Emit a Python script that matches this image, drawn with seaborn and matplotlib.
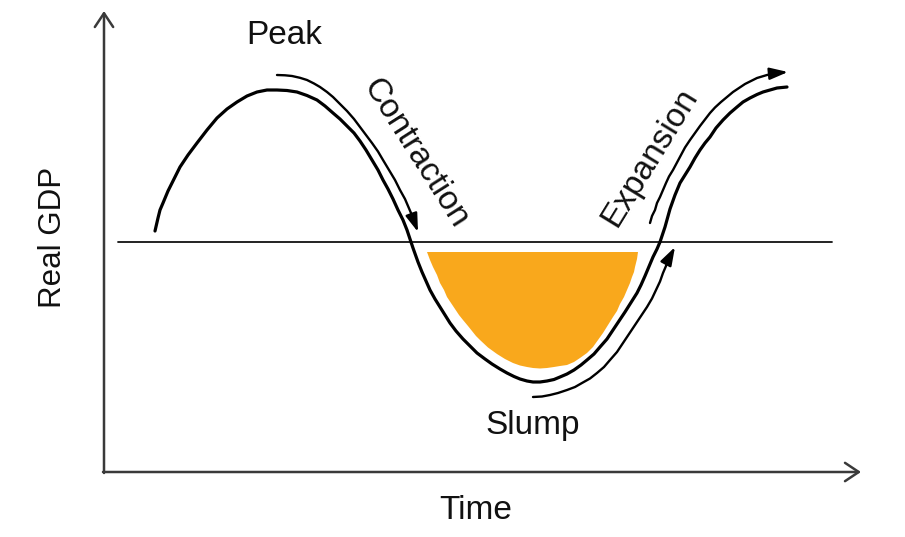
import matplotlib
matplotlib.use("Agg")
import matplotlib.pyplot as plt
import seaborn as sns
import pandas as pd

# ---- data (pixel-like coordinates, y grows downward) ----
curve_x = [155, 158, 160, 163, 168, 174, 180, 188, 197, 207, 217, 227, 237, 247, 257,
           267, 277, 287, 297, 307, 317, 325, 333, 340, 347, 354, 360, 366, 372, 378,
           383, 388, 393, 398, 403, 407, 413, 418, 422, 426, 430, 435, 440, 445, 450,
           456, 463, 470, 477, 485, 492, 500, 507, 514, 520, 527, 533, 540, 547, 554,
           560, 567, 574, 581, 587, 594, 600, 607, 613, 619, 625, 631, 637, 641, 645,
           649, 653, 657, 660, 665, 670, 675, 680, 685, 690, 695, 700, 705, 710, 716,
           723, 730, 737, 743, 750, 757, 763, 770, 777, 787]
curve_y = [231, 218, 210, 203, 191, 179, 167, 155, 143, 130, 118, 109, 102, 96, 92,
           90, 90, 90.5, 92, 95.5, 100, 106, 113, 119, 126, 133, 141, 150, 160, 170,
           180, 189, 199, 210, 220, 230, 248, 262, 272, 281, 290, 299, 307, 315, 323,
           331, 339, 346, 353, 359, 364, 369, 373, 376.5, 379, 381, 382, 382, 381, 379.5,
           377, 374, 370, 365, 360, 354, 347, 339, 330, 321, 312, 302.5, 293, 285, 276,
           266.5, 257, 249, 242, 227, 209, 195, 183, 175, 167, 158, 150, 143, 137, 128,
           120, 113, 107, 102, 98, 94.5, 92, 90, 88, 87]

contraction_x = [277, 285, 292, 300, 307, 314, 320, 327, 333, 340, 347, 354, 360,
                 366, 372, 378, 383, 389, 395, 400, 405, 408, 411, 418]
contraction_y = [75, 75.3, 76, 77.8, 80, 83.5, 87, 92, 97, 104, 111, 119, 127,
                 135, 143, 151.5, 160, 170, 180, 190, 199, 206, 213, 232]

expansion_x = [650, 652, 655, 657, 660, 663, 666, 669, 673, 677, 681, 685, 690, 695,
               700, 705, 710, 715, 721, 727, 733, 739, 745, 751, 757, 762, 767, 772,
               777, 788]
expansion_y = [223, 216, 210, 203, 197, 190, 183, 176.5, 170, 162.5, 155, 147.5, 140,
               133, 126, 119.5, 113, 107.5, 102, 97, 92, 88, 84, 81, 78, 76.5, 75, 74,
               73, 72]

slump_x = [533, 542, 550, 558, 567, 575, 582, 590, 597, 604, 610, 617, 623, 629, 635,
           641, 647, 652, 656, 660, 663, 666, 668, 675]
slump_y = [397, 396.5, 395, 393, 390, 387, 383, 378.5, 373, 367, 360, 352, 343, 334,
           325, 316, 307, 298.5, 290, 281.5, 273, 266, 260, 247]

area_x = [427, 430, 433, 437, 440, 444, 447, 451, 455, 459, 463, 468, 472, 476, 480,
          488, 497, 505, 513, 520, 527, 533, 540, 547, 554, 560, 567, 574, 580, 587,
          593, 598, 603, 608, 613, 617, 620, 624, 627, 630, 632, 634, 635, 637, 638]
area_y = [252, 260, 267, 275, 283, 290, 297, 303, 309, 315, 320, 326, 331, 336, 340,
          347.5, 354, 359, 363, 365.5, 367, 368, 368.5, 368, 367, 366, 365, 362, 358,
          353, 347, 340, 333, 325, 317, 311, 304, 297, 290, 283, 277, 272, 267, 259, 252]

trend_y = 242
trend_x = [118, 832]

labels = {
    "Peak": (284, 44),
    "Slump": (533, 434),
    "Time": (476, 519),
}
contraction_label = ("Contraction", 415, 153, -57.5)
expansion_label = ("Expansion", 650, 157, 58.5)
ylabel = ("Real GDP", 61, 237)

# ---- drawing ----
sns.set_theme(style="white")
plt.rcParams["font.family"] = ["Liberation Sans", "DejaVu Sans"]

fig = plt.figure(figsize=(9.05, 5.37), dpi=100)
ax = fig.add_axes([0, 0, 1, 1])
ax.set_xlim(0, 905)
ax.set_ylim(537, 0)
ax.axis("off")

axis_col = "#3a3a3a"
# axes with open arrowheads
ax.annotate("", xy=(104, 11), xytext=(104, 473),
            arrowprops=dict(arrowstyle="->,head_length=0.45,head_width=0.3",
                            mutation_scale=22, lw=1.8, color=axis_col,
                            shrinkA=0, shrinkB=0))
ax.annotate("", xy=(861, 472), xytext=(103, 472),
            arrowprops=dict(arrowstyle="->,head_length=0.45,head_width=0.3",
                            mutation_scale=22, lw=1.8, color=axis_col,
                            shrinkA=0, shrinkB=0))

# trend line
sns.lineplot(x=trend_x, y=[trend_y, trend_y], ax=ax, color="#111111", lw=1.3,
             sort=False, estimator=None)

# slump area
ax.fill(area_x, area_y, color="#F9A81C", lw=0, zorder=1)

# main cycle curve
df = pd.DataFrame({"x": curve_x, "y": curve_y})
sns.lineplot(data=df, x="x", y="y", ax=ax, color="black", lw=2.3,
             sort=False, estimator=None, solid_capstyle="round",
             solid_joinstyle="round")


def arrow_path(xs, ys):
    ax.plot(xs[:-1], ys[:-1], color="black", lw=1.7, solid_capstyle="round",
            solid_joinstyle="round")
    ax.annotate("", xy=(xs[-1], ys[-1]), xytext=(xs[-2], ys[-2]),
                arrowprops=dict(arrowstyle="-|>,head_length=0.55,head_width=0.18",
                                mutation_scale=20, lw=1.7, color="black",
                                shrinkA=0, shrinkB=0))


arrow_path(contraction_x, contraction_y)
arrow_path(expansion_x, expansion_y)
arrow_path(slump_x, slump_y)

# texts
for txt, (x, y) in labels.items():
    ax.text(x, y, txt, fontsize=24, ha="center", va="baseline", color="#111111")

t, x, y, r = contraction_label
ax.text(x, y, t, fontsize=24, rotation=r, rotation_mode="anchor",
        ha="center", va="center", color="#111111")
t, x, y, r = expansion_label
ax.text(x, y, t, fontsize=24, rotation=r, rotation_mode="anchor",
        ha="center", va="center", color="#111111")
t, x, y = ylabel
ax.text(x, y, t, fontsize=22.5, rotation=90, rotation_mode="anchor",
        ha="center", va="baseline", color="#111111")

ax.set_xlabel("")
ax.set_ylabel("")
fig.savefig("out.png", dpi=100)
